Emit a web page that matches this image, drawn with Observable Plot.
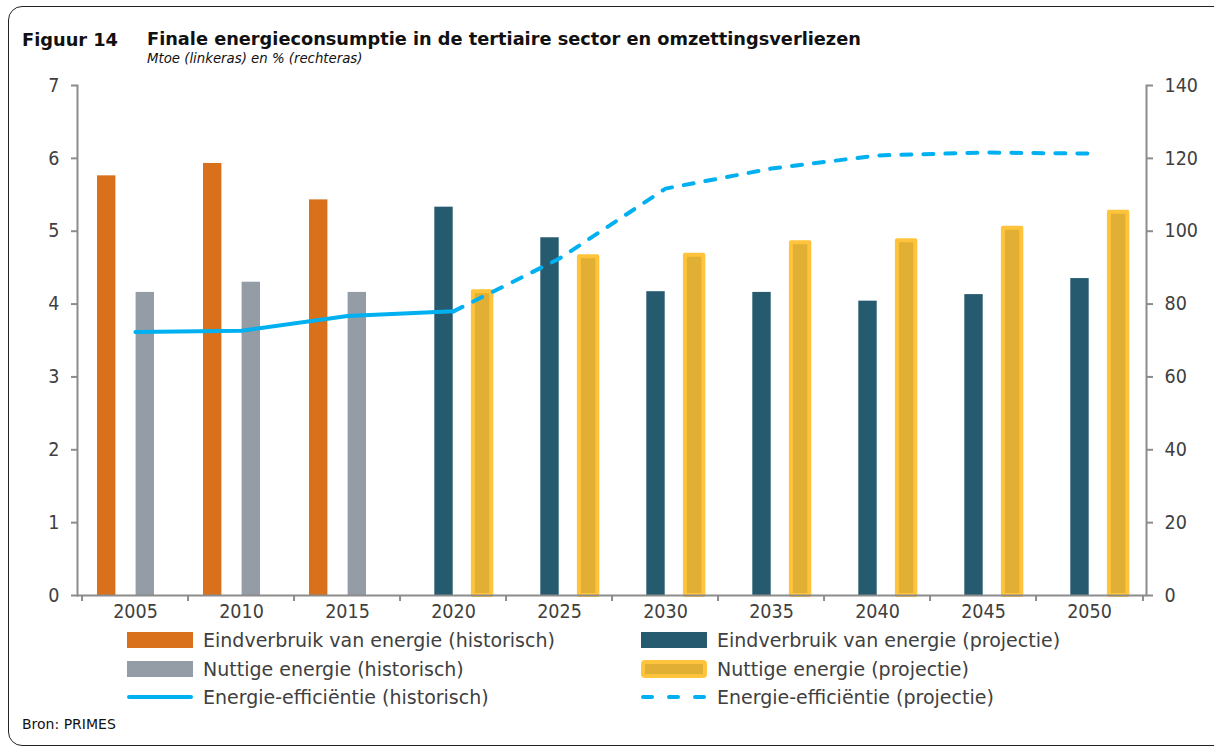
<!DOCTYPE html>
<html>
<head>
<meta charset="utf-8">
<script src="https://cdn.jsdelivr.net/npm/d3@7"></script>
<script src="https://cdn.jsdelivr.net/npm/@observablehq/plot@0.6"></script>
<style>
  html, body { margin: 0; padding: 0; background: #fff; }
  body { width: 1214px; height: 749px; position: relative; overflow: hidden;
         font-family: "DejaVu Sans", sans-serif; }
  #frame { position: absolute; left: 8px; top: 6px; width: 1220px; height: 738px;
           border: 1.5px solid #222; border-radius: 14px; }
  .t { position: absolute; white-space: nowrap; }
  #fig { left: 22px; top: 29px; font-weight: bold; font-size: 17.8px; color: #111; }
  #title { left: 147px; top: 29px; font-weight: bold; font-size: 17.75px; color: #111; }
  #sub { left: 147px; top: 51px; font-style: italic; font-size: 13.3px; color: #111; }
  #chart { position: absolute; left: 0; top: 60px; }
  #bron { left: 22px; top: 716px; font-size: 14px; color: #111; }
  .leg { position: absolute; display: flex; align-items: center; font-size: 19px; color: #404040; white-space: nowrap; }
  .leg svg { margin-right: 10px; }
</style>
</head>
<body>
<div id="frame"></div>
<div class="t" id="fig">Figuur 14</div>
<div class="t" id="title">Finale energieconsumptie in de tertiaire sector en omzettingsverliezen</div>
<div class="t" id="sub">Mtoe (linkeras) en % (rechteras)</div>
<div id="chart"></div>
<div id="legend"></div>
<div class="t" id="bron">Bron: PRIMES</div>
<script>
// ---- data ----
const years = [2005, 2010, 2015, 2020, 2025, 2030, 2035, 2040, 2045, 2050];
const eindHistYears = [2005, 2010, 2015];
const eindHist = [5.76, 5.93, 5.43];
const nutHistYears = [2005, 2010, 2015];
const nutHist = [4.16, 4.30, 4.16];
const eindProjYears = [2020, 2025, 2030, 2035, 2040, 2045, 2050];
const eindProj = [5.33, 4.91, 4.17, 4.16, 4.04, 4.13, 4.35];
const nutProjYears = [2020, 2025, 2030, 2035, 2040, 2045, 2050];
const nutProj = [4.17, 4.65, 4.67, 4.84, 4.87, 5.04, 5.26];
const effHistYears = [2005, 2010, 2015, 2020];
const effHist = [72.3, 72.7, 76.7, 78.0];
const effProjYears = [2020, 2025, 2030, 2035, 2040, 2045, 2050];
const effProj = [78.0, 92.5, 111.7, 117.2, 120.8, 121.6, 121.3];
const leftTicks = [0, 1, 2, 3, 4, 5, 6, 7];
const rightTicks = [0, 20, 40, 60, 80, 100, 120, 140];
const legendLabels = [
  "Eindverbruik van energie (historisch)", "Eindverbruik van energie (projectie)",
  "Nuttige energie (historisch)", "Nuttige energie (projectie)",
  "Energie-efficiëntie (historisch)", "Energie-efficiëntie (projectie)"
];

const C = { orange: "#D9711C", teal: "#265A6E", gray: "#949CA6", yellowFill: "#E0AF33",
            yellowStroke: "#FFC43B", line: "#00B0F0", axis: "#8c8c8c", text: "#404040" };

const ratio = 20; // right axis value per left axis unit
const zip = (xs, vs) => xs.map((x, i) => ({ year: x, v: vs[i] }));

const W = 1214, ML = 77, MR = 68;
const band = (W - ML - MR) / years.length;
const slot = 19.3, pad = 15;
const inset = k => ({ insetLeft: pad + k * slot, insetRight: band - pad - (k + 1) * slot });

const tickLen = 6 / 72.86;
const tickFont = '"DejaVu Sans Condensed", "DejaVu Sans", sans-serif';

const chart = Plot.plot({
  width: W, height: 575,
  marginLeft: ML, marginRight: MR, marginTop: 25, marginBottom: 40,
  style: { fontFamily: tickFont, fontSize: "19.5px", color: C.text, overflow: "visible" },
  x: { type: "band", domain: years, padding: 0, paddingOuter: 0, paddingInner: 0 },
  y: { domain: [0, 7] },
  marks: [
    Plot.barY(zip(eindHistYears, eindHist), { x: "year", y: "v", fill: C.orange, ...inset(0) }),
    Plot.barY(zip(eindProjYears, eindProj), { x: "year", y: "v", fill: C.teal, ...inset(1) }),
    Plot.barY(zip(nutHistYears, nutHist), { x: "year", y: "v", fill: C.gray, ...inset(2) }),
    Plot.barY(zip(nutProjYears, nutProj), { x: "year", y: "v", fill: C.yellowFill, stroke: C.yellowStroke, strokeWidth: 4, strokeLinejoin: "round", ...inset(3) }),
    Plot.line(zip(effHistYears, effHist), { x: "year", y: d => d.v / ratio, stroke: C.line, strokeWidth: 4, strokeLinecap: "round", strokeLinejoin: "round" }),
    Plot.line(zip(effProjYears, effProj), { x: "year", y: d => d.v / ratio, stroke: C.line, strokeWidth: 4, strokeDasharray: "10,12", strokeLinecap: "round", strokeLinejoin: "round" }),
    Plot.ruleY([0], { stroke: C.axis, strokeWidth: 2 }),
    Plot.frame({ anchor: "left", stroke: C.axis, strokeWidth: 2 }),
    Plot.frame({ anchor: "right", stroke: C.axis, strokeWidth: 2 }),
    Plot.ruleX(years, { x: d => d, dx: -band / 2, y1: 0, y2: -tickLen, stroke: C.axis, strokeWidth: 2 }),
    Plot.ruleX([years[years.length - 1]], { x: d => d, dx: band / 2, y1: 0, y2: -tickLen, stroke: C.axis, strokeWidth: 2 }),
    Plot.axisX({ tickSize: 0, tickPadding: 9, label: null, fill: C.text, fontSize: 19.5, tickFormat: d => String(d) }),
    Plot.axisY({ anchor: "left", ticks: leftTicks, tickSize: 6, tickPadding: 12, label: null, stroke: C.axis, strokeWidth: 2, fill: C.text, fontSize: 19.5, tickFormat: d => String(d) }),
    Plot.axisY({ anchor: "right", ticks: rightTicks.map(v => v / ratio), tickSize: 6, tickPadding: 12, label: null, stroke: C.axis, strokeWidth: 2, fill: C.text, fontSize: 19.5, tickFormat: d => String(Math.round(d * ratio)) })
  ]
});
document.getElementById("chart").appendChild(chart);

// ---- legend ----
const legendItems = [
  { kind: "bar", fill: C.orange },
  { kind: "bar", fill: C.teal },
  { kind: "bar", fill: C.gray },
  { kind: "bar", fill: C.yellowFill, stroke: C.yellowStroke },
  { kind: "line" },
  { kind: "dash" }
];
const legend = document.getElementById("legend");
legendItems.forEach((it, i) => {
  const col = i % 2, row = Math.floor(i / 2);
  const div = document.createElement("div");
  div.className = "leg";
  div.style.left = (col === 0 ? 127 : 641) + "px";
  div.style.top = (629 + row * 28.5) + "px";
  let sw;
  if (it.kind === "bar") {
    sw = it.stroke
      ? `<rect x="2" y="4" width="62" height="14" rx="2" fill="${it.fill}" stroke="${it.stroke}" stroke-width="4"/>`
      : `<rect x="0" y="3" width="66" height="16" fill="${it.fill}"/>`;
  } else if (it.kind === "line") {
    sw = `<line x1="2" x2="64" y1="11" y2="11" stroke="${C.line}" stroke-width="4" stroke-linecap="round"/>`;
  } else {
    sw = `<line x1="2" x2="64" y1="11" y2="11" stroke="${C.line}" stroke-width="4" stroke-linecap="round" stroke-dasharray="9,17"/>`;
  }
  div.innerHTML = `<svg width="66" height="22">${sw}</svg><span>${legendLabels[i]}</span>`;
  legend.appendChild(div);
});
</script>
</body>
</html>
